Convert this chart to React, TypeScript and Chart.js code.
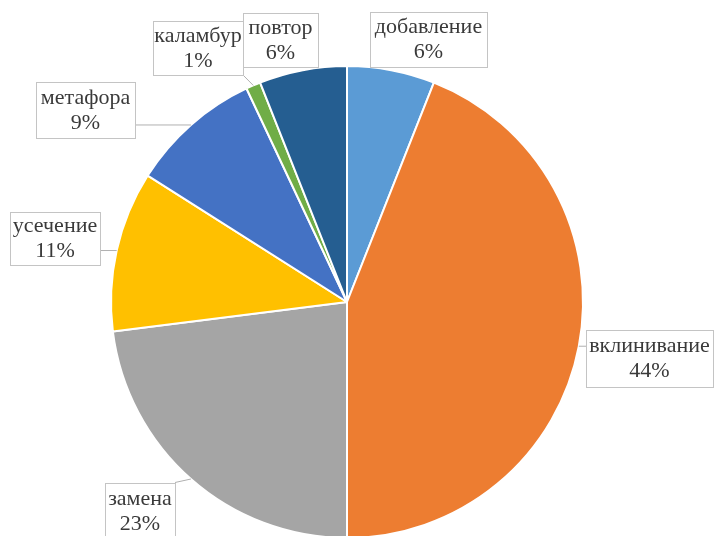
import React, { useEffect, useRef } from "react";
import { Chart, registerables } from "chart.js";

Chart.register(...registerables);

const categories = ["добавление", "вклинивание", "замена", "усечение", "метафора", "каламбур", "повтор"];
const values = [6, 44, 23, 11, 9, 1, 6];
const percentLabels = ["6%", "44%", "23%", "11%", "9%", "1%", "6%"];

const colors = ["#5B9BD5", "#ED7D31", "#A5A5A5", "#FFC000", "#4472C4", "#70AD47", "#255E91"];

// label box layout: offset of box centre from pie centre, box size
const labelBoxes = [
  { dx: 81.5, dy: -262.5, w: 117, h: 55 },
  { dx: 302.5, dy: 56.5, w: 127, h: 57 },
  { dx: -207, dy: 209, w: 70, h: 57 },
  { dx: -292, dy: -63.5, w: 90, h: 53 },
  { dx: -261.5, dy: -192, w: 99, h: 56 },
  { dx: -149, dy: -254, w: 90, h: 54 },
  { dx: -66.5, dy: -262, w: 75, h: 54 },
];

const calloutPlugin = {
  id: "callouts",
  afterDatasetsDraw(chart: any) {
    const ctx = chart.ctx;
    const meta = chart.getDatasetMeta(0);
    ctx.save();
    meta.data.forEach((arc: any, i: number) => {
      const { x, y, startAngle, endAngle, outerRadius } = arc.getProps(
        ["x", "y", "startAngle", "endAngle", "outerRadius"],
        true
      );
      const mid = (startAngle + endAngle) / 2;
      const ax = x + Math.cos(mid) * outerRadius;
      const ay = y + Math.sin(mid) * outerRadius;
      const b = labelBoxes[i];
      const bx = x + b.dx - b.w / 2;
      const by = y + b.dy - b.h / 2;
      // leader line
      const px = Math.min(Math.max(ax, bx), bx + b.w);
      const py = Math.min(Math.max(ay, by), by + b.h);
      const dist = Math.hypot(ax - px, ay - py);
      if (dist > 6) {
        ctx.strokeStyle = "#b0b0b0";
        ctx.lineWidth = 1;
        ctx.beginPath();
        ctx.moveTo(px, py);
        ctx.lineTo(ax, ay);
        ctx.stroke();
      }
      // box
      ctx.fillStyle = "#ffffff";
      ctx.fillRect(bx, by, b.w, b.h);
      ctx.strokeStyle = "#c4c4c4";
      ctx.lineWidth = 1;
      ctx.strokeRect(Math.round(bx) + 0.5, Math.round(by) + 0.5, Math.round(b.w), Math.round(b.h));
      // text
      ctx.fillStyle = "#3a3a3a";
      ctx.font = "22px 'Liberation Serif', 'Times New Roman', serif";
      ctx.textAlign = "center";
      ctx.textBaseline = "middle";
      const cx = bx + b.w / 2;
      const cy = by + b.h / 2;
      ctx.fillText(categories[i], cx, cy - 12);
      ctx.fillText(percentLabels[i], cx, cy + 13);
    });
    ctx.restore();
  },
};

export default function App() {
  const ref = useRef<HTMLCanvasElement>(null);
  useEffect(() => {
    if (!ref.current) return;
    const chart = new Chart(ref.current, {
      type: "pie",
      data: {
        labels: categories,
        datasets: [
          {
            data: values,
            backgroundColor: colors,
            borderColor: "#ffffff",
            borderWidth: 2,
          },
        ],
      },
      options: {
        responsive: false,
        animation: false,
        layout: { padding: { left: 110, right: 131, top: 65, bottom: 61 } },
        plugins: {
          legend: { display: false },
          tooltip: { enabled: false },
        },
      },
      plugins: [calloutPlugin],
    });
    return () => chart.destroy();
  }, []);
  return (
    <div
      style={{
        position: "fixed",
        left: 0,
        top: 0,
        width: 715,
        height: 536,
        overflow: "hidden",
        background: "#ffffff",
      }}
    >
      <canvas ref={ref} width={715} height={600} style={{ width: 715, height: 600, display: "block" }} />
    </div>
  );
}
